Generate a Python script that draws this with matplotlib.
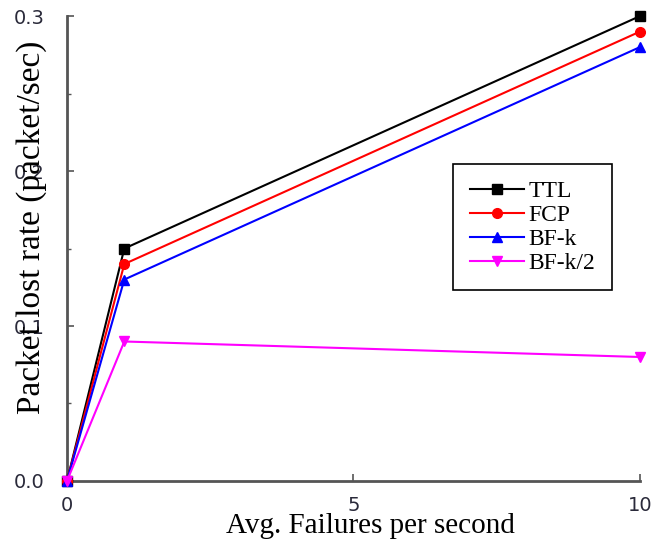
import numpy as np
from matplotlib import pyplot as plt
from matplotlib.ticker import MultipleLocator

# average failures per second vs packet lost rate for each scheme
failures = [0, 1, 10]
ttl = [0.0, 0.15, 0.30]
fcp = [0.0, 0.14, 0.29]
bf_k = [0.0, 0.13, 0.28]
bf_k2 = [0.0, 0.09, 0.08]

series = [
    ("TTL", ttl, "black", "s"),
    ("FCP", fcp, "#ff0000", "o"),
    ("BF-k", bf_k, "#0000ff", "^"),
    ("BF-k/2", bf_k2, "#ff00ff", "v"),
]

serif = "Liberation Serif"
tick_color = "#2a2a3a"

fig, ax = plt.subplots(figsize=(6.57, 5.56), dpi=100)
fig.subplots_adjust(left=0.102, right=0.974, top=0.971, bottom=0.135)

for name, vals, color, marker in series:
    ax.plot(failures, vals, color=color, marker=marker, markersize=7,
            linewidth=1.5, label=name, clip_on=False, zorder=3)

ax.set_xlim(0, 10)
ax.set_ylim(0, 0.3)
ax.xaxis.set_major_locator(MultipleLocator(5))
ax.yaxis.set_major_locator(MultipleLocator(0.1))
ax.yaxis.set_minor_locator(MultipleLocator(0.05))
ax.yaxis.set_major_formatter(plt.FormatStrFormatter("%.1f"))

for side in ("top", "right"):
    ax.spines[side].set_visible(False)
for side in ("left", "bottom"):
    ax.spines[side].set_color("#555555")
    ax.spines[side].set_linewidth(2)

ax.tick_params(which="major", direction="in", length=5, width=1.2, color="#555555",
               labelsize=14, labelcolor=tick_color)
ax.tick_params(axis="y", which="major", pad=16)
ax.tick_params(axis="x", which="major", pad=11)
ax.tick_params(which="minor", direction="in", length=3, width=1, color="#555555")

ax.set_xlabel("Avg. Failures per second", fontfamily=serif, fontsize=21)
ax.xaxis.set_label_coords(0.53, -0.07)
# the y label sits over the tick labels, as in the original figure
ax.set_ylabel("Packet lost rate (packet/sec)", fontfamily=serif, fontsize=24)
ax.yaxis.set_label_coords(-0.035, 0.545)

leg = ax.legend(loc="lower right", bbox_to_anchor=(0.951, 0.41),
                prop={"family": serif, "size": 17}, fancybox=False,
                edgecolor="black", framealpha=1, handlelength=2.3,
                borderpad=0.7, labelspacing=0.1, handletextpad=0.2,
                borderaxespad=0)
leg.get_frame().set_linewidth(1.2)

fig.savefig("out.png", dpi=100)
